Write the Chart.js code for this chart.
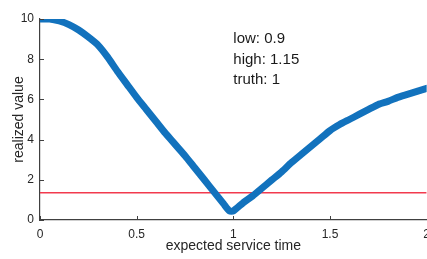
<!DOCTYPE html>
<html>
<head>
<meta charset="utf-8">
<script src="https://cdn.jsdelivr.net/npm/chart.js@4/dist/chart.umd.min.js"></script>
<style>
  html, body { margin: 0; padding: 0; background: #fff; overflow: hidden; }
  #wrap { width: 437px; height: 259px; }
</style>
</head>
<body>
<div id="wrap"><canvas id="c"></canvas></div>
<script>
// expected service time (x) and realized value (y)
const serviceTime = [0, 0.05, 0.1, 0.15, 0.2, 0.25, 0.3, 0.35, 0.4, 0.45, 0.5,
  0.55, 0.6, 0.65, 0.7, 0.75, 0.8, 0.85, 0.9, 0.95, 0.98, 1.0, 1.05, 1.1,
  1.15, 1.2, 1.25, 1.3, 1.35, 1.4, 1.45, 1.5, 1.55, 1.6, 1.65, 1.7, 1.75,
  1.8, 1.85, 1.9, 1.95, 2.0]
const realizedValue = [10, 10, 9.9, 9.72, 9.45, 9.1, 8.7, 8.1, 7.4, 6.75, 6.1,
  5.5, 4.9, 4.3, 3.75, 3.2, 2.6, 2.0, 1.4, 0.8, 0.45, 0.45, 0.85, 1.2,
  1.6, 2.0, 2.4, 2.85, 3.25, 3.65, 4.05, 4.45, 4.75, 5.0, 5.25, 5.5, 5.75,
  5.9, 6.1, 6.25, 6.4, 6.55]
const thresholdX = [0, 2]
const thresholdY = [1.36, 1.36]
const xTicks = [0, 0.5, 1, 1.5, 2]
const yTicks = [0, 2, 4, 6, 8, 10]
const notes = ['low: 0.9', 'high: 1.15', 'truth: 1']

const font = 'Liberation Sans, Arial, Helvetica, sans-serif'

const notesPlugin = {
  id: 'notes',
  afterDraw(chart) {
    const { ctx, scales } = chart
    ctx.save()
    ctx.font = '15px ' + font
    ctx.fillStyle = '#1a1a1a'
    ctx.textBaseline = 'middle'
    const x0 = scales.x.getPixelForValue(1.0)
    const yv = [9.0, 7.95, 6.95]
    notes.forEach((t, i) => ctx.fillText(t, x0, scales.y.getPixelForValue(yv[i])))
    ctx.restore()
  },
}

// MATLAB style inward tick marks
const ticksPlugin = {
  id: 'inticks',
  afterDatasetsDraw(chart) {
    const { ctx, scales, chartArea } = chart
    ctx.save()
    ctx.strokeStyle = '#404040'
    ctx.lineWidth = 1
    ctx.beginPath()
    xTicks.forEach(v => {
      const px = Math.round(scales.x.getPixelForValue(v)) + 0.5
      ctx.moveTo(px, chartArea.bottom)
      ctx.lineTo(px, chartArea.bottom - 4)
    })
    yTicks.forEach(v => {
      const py = Math.round(scales.y.getPixelForValue(v)) + 0.5
      ctx.moveTo(chartArea.left, py)
      ctx.lineTo(chartArea.left + 4, py)
    })
    ctx.stroke()
    ctx.restore()
  },
}

new Chart(document.getElementById('c'), {
  type: 'scatter',
  data: {
    datasets: [
      {
        data: serviceTime.map((x, i) => ({ x, y: realizedValue[i] })),
        showLine: true,
        borderColor: '#1272bd',
        borderWidth: 7,
        pointRadius: 0,
        tension: 0.2,
        borderJoinStyle: 'round',
        borderCapStyle: 'round',
      },
      {
        data: thresholdX.map((x, i) => ({ x, y: thresholdY[i] })),
        showLine: true,
        borderColor: '#f23a4e',
        borderWidth: 1.5,
        pointRadius: 0,
      },
    ],
  },
  options: {
    responsive: true,
    maintainAspectRatio: false,
    animation: false,
    layout: { padding: { top: 19, right: 0, left: 0, bottom: 0 } },
    plugins: { legend: { display: false }, tooltip: { enabled: false } },
    scales: {
      x: {
        type: 'linear',
        min: 0,
        max: 2,
        afterBuildTicks: s => { s.ticks = xTicks.map(v => ({ value: v })) },
        afterFit: s => { s.height = 39 },
        grid: { display: false, drawTicks: false },
        border: { color: '#404040', width: 1.2 },
        ticks: { color: '#262626', font: { family: font, size: 12 }, padding: 7, maxRotation: 0, callback: v => String(v) },
        title: { display: true, text: 'expected service time', color: '#262626', font: { family: font, size: 14 }, padding: { top: 0 } },
      },
      y: {
        min: 0,
        max: 10,
        afterBuildTicks: s => { s.ticks = yTicks.map(v => ({ value: v })) },
        afterFit: s => { s.width = 40 },
        grid: { display: false, drawTicks: false },
        border: { color: '#404040', width: 1.2 },
        ticks: { color: '#262626', font: { family: font, size: 12 }, padding: 6, callback: v => String(v) },
        title: { display: true, text: 'realized value', color: '#262626', font: { family: font, size: 14 }, padding: { top: 11, bottom: 0 } },
      },
    },
  },
  plugins: [notesPlugin, ticksPlugin],
})
</script>
</body>
</html>
